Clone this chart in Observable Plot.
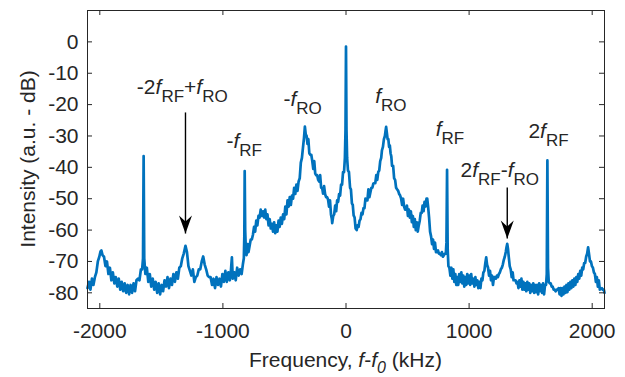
<!DOCTYPE html>
<html><head><meta charset="utf-8">
<script src="https://cdn.jsdelivr.net/npm/d3@7"></script>
<script src="https://cdn.jsdelivr.net/npm/@observablehq/plot@0.6"></script>
<style>body{margin:0;background:#fff} svg{display:block}</style>
</head><body><div id="chart"></div>
<script>
// Spectrum: frequency offset (kHz) and intensity (dB)
const freqKHz = [
-2100,-2088,-2076,-2064,-2052,-2040,-2028,-2016,-2004,-1994,
-1987,-1978,-1966,-1954,-1942,-1930,-1918,-1906,-1894,-1882,
-1870,-1858,-1846,-1834,-1822,-1810,-1798,-1786,-1774,-1762,
-1750,-1738,-1726,-1714,-1702,-1690,-1678,-1666,-1656,-1649,
-1644,-1639,-1630,-1618,-1606,-1594,-1582,-1570,-1558,-1546,
-1534,-1522,-1510,-1498,-1486,-1474,-1462,-1450,-1438,-1426,
-1414,-1402,-1390,-1378,-1366,-1354,-1342,-1330,-1318,-1304,
-1292,-1280,-1268,-1256,-1244,-1232,-1220,-1208,-1196,-1184,
-1172,-1160,-1148,-1136,-1124,-1112,-1100,-1088,-1076,-1064,
-1052,-1040,-1028,-1016,-1004,-992,-980,-968,-956,-944,
-934,-927,-920,-908,-896,-884,-872,-860,-848,-838,
-830,-826,-823,-819,-814,-808,-800,-792,-783,-774,
-765,-756,-747,-738,-729,-720,-711,-702,-693,-684,
-674,-665,-656,-647,-638,-629,-620,-611,-602,-593,
-584,-575,-566,-557,-548,-539,-530,-521,-511,-502,
-493,-484,-475,-466,-457,-448,-439,-430,-421,-412,
-403,-394,-385,-376,-367,-358,-349,-341,-334,-327,
-320,-313,-306,-298,-290,-282,-274,-266,-258,-250,
-242,-234,-226,-218,-210,-202,-194,-186,-178,-170,
-162,-154,-146,-138,-130,-122,-115,-112,-104,-96,
-88,-80,-72,-64,-56,-48,-40,-32,-24,-16,
-9,-4,0,4,9,16,24,33,40,48,
55,62,70,78,87,94,102,110,118,126,
134,142,150,158,166,174,182,190,198,206,
214,222,230,238,246,254,262,270,278,286,
292,300,308,316,321,326,332,338,344,350,
356,362,368,374,383,391,399,407,415,424,
432,440,448,456,464,472,480,488,495,503,
511,519,527,535,543,551,559,567,575,583,
591,599,607,615,622,630,638,646,654,660,
667,675,683,691,699,707,715,723,731,739,
747,755,763,771,779,787,795,803,811,816,
821,826,832,840,848,856,864,872,880,888,
896,904,912,920,929,937,945,953,961,969,
977,985,993,1001,1009,1017,1025,1035,1043,1051,
1059,1067,1075,1083,1092,1100,1108,1116,1124,1132,
1139,1146,1154,1162,1170,1178,1186,1194,1202,1210,
1218,1226,1234,1242,1250,1258,1266,1274,1282,1290,
1298,1304,1310,1316,1322,1330,1338,1346,1354,1361,
1369,1377,1385,1393,1401,1409,1417,1425,1433,1441,
1449,1457,1465,1473,1481,1489,1497,1505,1513,1521,
1529,1537,1545,1553,1561,1569,1577,1585,1593,1601,
1609,1617,1625,1631,1636,1641,1647,1655,1663,1671,
1679,1687,1695,1703,1711,1719,1727,1735,1743,1751,
1759,1767,1775,1783,1791,1799,1807,1815,1823,1831,
1839,1847,1855,1863,1871,1879,1887,1895,1903,1911,
1919,1927,1935,1943,1951,1959,1967,1974,1982,1990,
1998,2006,2014,2022,2030,2038,2046,2054,2062,2071,
2079,2087,2095,2100
];
const intensityDB = [
-78.5,-76.5,-79,-75.5,-77.5,-75,-73.5,-70,-68.5,-66.8,
-66.5,-68,-68.5,-71.5,-70,-74,-72,-76,-73.5,-77,
-75,-78,-75.5,-79,-76.5,-79.5,-77,-80,-77.5,-80.5,
-77.5,-80,-77,-79.5,-76,-75.5,-76,-72.5,-72.5,-69,
-36.4,-69,-74,-72,-76.5,-74,-78,-75.5,-79,-76.5,
-80,-77,-80.5,-77.5,-79.5,-76,-78,-75,-78.5,-75.5,
-77.5,-74,-76.5,-73.5,-75.5,-72,-71.5,-69,-67.5,-65,
-67,-71.5,-73,-74.5,-72.5,-76.5,-75,-74.5,-72.5,-72.5,
-70,-68.4,-71,-72.5,-74.5,-75,-75,-77.5,-75.5,-78.5,
-75,-77.5,-75.5,-78,-74,-76.5,-73,-76.5,-73.5,-76,
-72.5,-68.7,-75.5,-73.5,-76,-72,-74.5,-72.5,-74,-71,
-69,-62,-41.2,-60,-66,-68,-64.5,-67,-65,-63,
-63,-61.5,-59,-60.5,-57,-58.5,-55.5,-56,-53.5,-55.5,
-54,-56,-53.5,-56.5,-55,-58.5,-56.5,-59.5,-58,-60.5,
-57.5,-61,-58.5,-60.5,-57,-59,-56,-58,-55,-56.5,
-52.5,-55,-50.5,-52.5,-49.5,-52,-49,-50,-46.5,-48.5,
-45.5,-47.5,-44.5,-43.5,-38.5,-37,-33.5,-30.5,-27,-29.5,
-30,-32.5,-31,-35.5,-36,-36,-38,-40.5,-38,-42,
-42.5,-42.5,-44,-44.5,-42.5,-46.5,-46.5,-48.4,-46,-48.5,
-49.5,-49.5,-50.2,-52.5,-50.5,-55,-56.5,-57.8,-55.5,-55,
-52.2,-54,-50.5,-51,-48.5,-49,-45.5,-45.5,-41.5,-41.5,
-37,-28,-1.5,-28,-37,-41,-41.5,-46.5,-47,-51.5,
-52,-55.3,-56,-59.5,-60,-58.5,-59,-57,-56.5,-54.5,
-55,-53,-53,-50,-50.5,-50.5,-47,-49.5,-48,-46.5,
-46.5,-45.2,-45,-45,-42.5,-44,-41.5,-41,-38,-37,
-34.6,-33.5,-31,-30,-28.5,-27.1,-29,-31,-31,-33.5,
-33,-35.5,-36.5,-39.5,-39.5,-43.5,-44,-46.5,-47,-47.5,
-48.5,-49,-50,-52,-50,-52.5,-53.5,-53.5,-52.2,-55.5,
-53.5,-56,-54,-57.5,-55.5,-59,-56.5,-60,-57.5,-60.5,
-58.5,-57,-54.5,-54.5,-52.2,-54,-51,-52.5,-50,-50,
-52.5,-56,-60.5,-62,-64.5,-63,-66,-64,-67,-67,
-66.5,-67.5,-67.5,-68,-67,-68.5,-68,-67.5,-67.5,-64,
-40.8,-66,-71.5,-72,-74.5,-72,-75.5,-72.5,-76.5,-74,
-77.5,-75,-77.5,-74,-76.5,-73.5,-77,-74.5,-78,-75,
-77.5,-74,-77,-74.5,-77.5,-74,-77,-75.5,-78,-75,
-77.5,-76,-78.5,-76.5,-78.5,-75.5,-76,-73.5,-73,-70.5,
-68.7,-71,-72,-74.5,-73,-76,-74.5,-77.5,-75,-75,
-75.5,-74.5,-75,-74,-73.5,-72.5,-72,-71,-69.5,-68.5,
-67,-65.5,-64.4,-66,-68.5,-71.5,-72.5,-75,-73.5,-76,
-76,-76,-77,-76.5,-78.5,-76,-78,-75.5,-79,-76.5,
-79,-77,-79.5,-76.5,-79,-77,-80,-77.5,-79.5,-77,
-80,-77.5,-79.8,-77.5,-80.5,-77,-79.5,-77.5,-80,-77,
-80.5,-77.5,-77.5,-74,-37.8,-72,-76.5,-77,-77,-78,
-78,-79,-79,-79.5,-79,-79,-78.5,-80.5,-78.5,-81,
-78.5,-80.5,-78,-80,-77.5,-79.8,-77,-79,-76.5,-78.5,
-76,-78,-75.5,-77.5,-75,-76.5,-74,-75.5,-73,-74.5,
-72,-72.5,-70.5,-70.5,-68.5,-67.5,-65.5,-67.5,-70,-70,
-71.5,-72,-73.5,-74,-76.5,-75,-78,-76,-79,-78.8,
-78.5,-79,-79,-80
];

const xTicks = [-2000, -1000, 0, 1000, 2000];
const yTicks = [0, -10, -20, -30, -40, -50, -60, -70, -80];

// Peak annotations (label centre frequency, baseline dB)
const annText = [
  "-2<i>f</i><sub>RF</sub>+<i>f</i><sub>RO</sub>",
  "-<i>f</i><sub>RO</sub>",
  "-<i>f</i><sub>RF</sub>",
  "<i>f</i><sub>RO</sub>",
  "<i>f</i><sub>RF</sub>",
  "2<i>f</i><sub>RF</sub>-<i>f</i><sub>RO</sub>",
  "2<i>f</i><sub>RF</sub>"
];
const annFreq = [-1326, -348, -823, 369, 848, 1253, 1649];
const annDB   = [-16.8, -20.5, -34.1, -19.6, -30.3, -43.1, -30.7];

// Arrows pointing at the weak mixing products
const arrowFreq = [-1304, 1310];
const arrowTopDB = [-22.5, -46.4];
const arrowTipDB = [-61.1, -62.7];

const xLabel = "Frequency, <i>f</i>-<i>f</i><sub><i>0</i></sub> (kHz)";
const yLabel = "Intensity (a.u. - dB)";

const W = 625, H = 377, mT = 10, mB = 69, mL = 87, mR = 21;
const innerH = H - mT - mB, innerW = W - mL - mR;
const ink = "#262626";
const FONT = "'Liberation Sans', Arial, Helvetica, sans-serif";

const arrowHead = {
  draw(ctx) {
    ctx.moveTo(0, 0);
    ctx.lineTo(-6.5, -18);
    ctx.lineTo(0, -12);
    ctx.lineTo(6.5, -18);
    ctx.closePath();
  }
};

const chart = Plot.plot({
  width: W, height: H,
  marginTop: mT, marginBottom: mB, marginLeft: mL, marginRight: mR,
  style: {fontFamily: FONT, fontSize: "21px", color: ink, background: "#fff", overflow: "visible"},
  x: {domain: [-2100, 2100]},
  y: {domain: [-85, 10]},
  marks: [
    Plot.line(freqKHz, {x: freqKHz, y: intensityDB, stroke: "#0072BD", strokeWidth: 2.7, strokeLinejoin: "round"}),
    Plot.frame({stroke: ink, strokeWidth: 1}),
    Plot.tickX(xTicks, {x: d => d, stroke: ink, insetTop: innerH - 5}),
    Plot.tickX(xTicks, {x: d => d, stroke: ink, insetBottom: innerH - 5}),
    Plot.tickY(yTicks, {y: d => d, stroke: ink, insetRight: innerW - 5}),
    Plot.tickY(yTicks, {y: d => d, stroke: ink, insetLeft: innerW - 5}),
    Plot.axisX(xTicks, {tickSize: 0, tickPadding: 15, label: null, fontSize: 21, tickFormat: d => String(d)}),
    Plot.axisY(yTicks, {tickSize: 0, tickPadding: 9, label: null, fontSize: 21, tickFormat: d => String(d)}),
    Plot.link(arrowFreq, {x1: arrowFreq, x2: arrowFreq, y1: arrowTopDB, y2: arrowTipDB, stroke: "#000", strokeWidth: 1.4}),
    Plot.dot(arrowFreq, {x: arrowFreq, y: arrowTipDB, symbol: arrowHead, fill: "#000", r: 6})
  ]
});
document.getElementById("chart").appendChild(chart);

const xs = chart.scale("x"), ys = chart.scale("y");
const svg = d3.select(chart);

function rich(markup, {x = 0, y = 0, size = 21, subSize = 17, subShift = 8, transform = null}) {
  const t = svg.append("text")
    .attr("x", x).attr("y", y)
    .attr("text-anchor", "middle")
    .attr("font-family", FONT)
    .attr("font-size", size)
    .attr("fill", ink);
  if (transform) t.attr("transform", transform);
  let ital = false, sub = false, shifted = 0;
  for (const tok of markup.split(/(<\/?i>|<\/?sub>)/)) {
    if (tok === "<i>") ital = true;
    else if (tok === "</i>") ital = false;
    else if (tok === "<sub>") sub = true;
    else if (tok === "</sub>") sub = false;
    else if (tok) {
      const target = sub ? subShift : 0;
      const s = t.append("tspan").text(tok).attr("font-size", sub ? subSize : size);
      if (target !== shifted) { s.attr("dy", target - shifted); shifted = target; }
      if (ital) s.attr("font-style", "italic");
    }
  }
  return t;
}

annText.forEach((m, i) => {
  rich(m, {x: xs.apply(annFreq[i]), y: ys.apply(annDB[i]), size: 21, subSize: 17, subShift: 8});
});

rich(xLabel, {x: (mL + W - mR) / 2, y: 366.5, size: 21, subSize: 16, subShift: 6});
rich(yLabel, {size: 21, transform: `translate(35,${(mT + H - mB) / 2}) rotate(-90)`});
</script>
</body></html>
